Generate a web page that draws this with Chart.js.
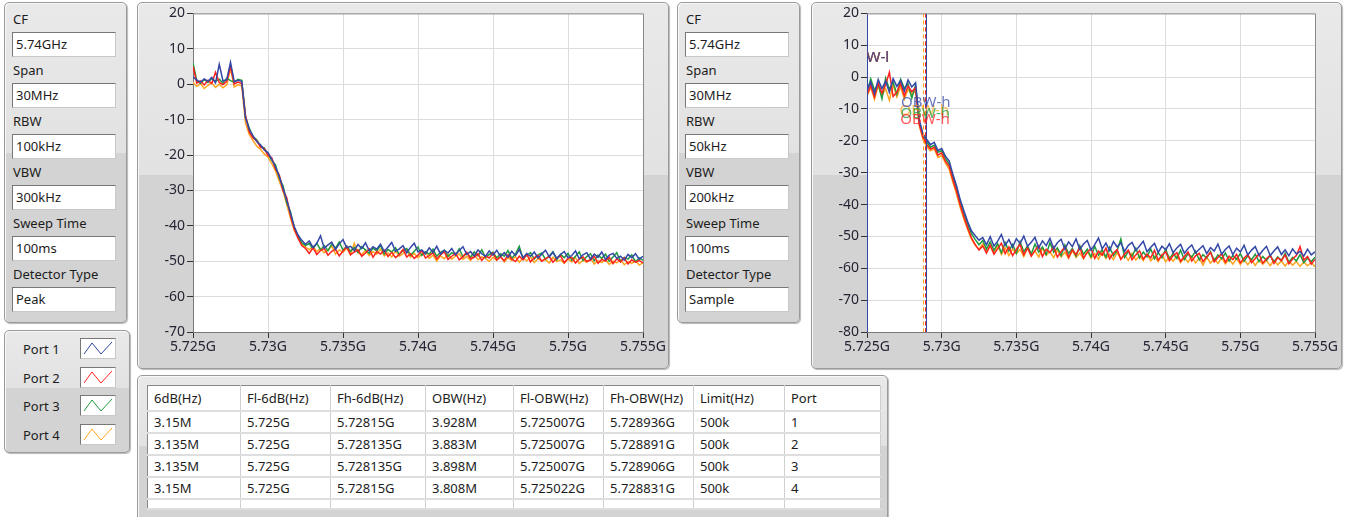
<!DOCTYPE html>
<html>
<head>
<meta charset="utf-8">
<script src="https://cdn.jsdelivr.net/npm/chart.js@4.4.1/dist/chart.umd.min.js"></script>
<style>
  body { margin: 0; width: 1348px; height: 517px; overflow: hidden; background: #fff;
         font-family: "Noto Sans", "Open Sans", sans-serif; font-size: 13px; color: #1c1c1c; }
  .panel { position: absolute; box-sizing: border-box; border: 1px solid #9a9a9a; border-radius: 5px;
           background: linear-gradient(#e9e9e9 0%, #e2e2e2 47%, #d3d3d3 47%, #d3d3d3 100%);
           box-shadow: inset 1px 1px 0 #f8f8f8, 1px 1px 1px #b8b8b8; }
  .lbl { position: absolute; left: 8px; line-height: 16px; }
  .box { position: absolute; left: 7px; width: 104px; height: 25px; box-sizing: border-box;
         background: #fff; border: 1px solid #777; border-right-color: #c8c8c8; border-bottom-color: #c8c8c8;
         padding-left: 3px; line-height: 22px; }
  .leg { position: absolute; left: 18px; line-height: 16px; }
  .sw { position: absolute; left: 75px; width: 36px; height: 21px; box-sizing: border-box;
        background: #fff; border: 1px solid #777; border-right-color: #c8c8c8; border-bottom-color: #c8c8c8; }
  canvas { position: absolute; left: 0; top: 0; }
  table { position: absolute; left: 9px; top: 9px; border-collapse: collapse; background: #fff;
          border: 1px solid #888; }
  td { height: 22px; padding: 0 0 0 6px; border-right: 1px solid #cfcfcf; border-bottom: 2px solid #dedede;
       white-space: nowrap; box-sizing: border-box; }
  tr.hd td { height: 25px; }
</style>
</head>
<body>
<script>
// Messparameter der beiden Analysen
const paramLabels = ['CF', 'Span', 'RBW', 'VBW', 'Sweep Time', 'Detector Type'];
const paramsLeft = ['5.74GHz', '30MHz', '100kHz', '300kHz', '100ms', 'Peak'];
const paramsRight = ['5.74GHz', '30MHz', '50kHz', '200kHz', '100ms', 'Sample'];

const portNames = ['Port 1', 'Port 2', 'Port 3', 'Port 4'];
const portColors = ['#3347a6', '#ff2020', '#1f9a3e', '#ffa51f'];

// Frequenzachse (MHz ab 5725 MHz)
const startMHz = 5725;
const sweepOffsetMHz = [0, 0.25, 0.5, 0.75, 1, 1.25, 1.5, 1.75, 2, 2.25, 2.5, 2.75, 3, 3.25, 3.5, 3.75,
  4, 4.25, 4.5, 4.75, 5, 5.25, 5.5, 5.75, 6, 6.25, 6.5, 6.75, 7, 7.25, 7.5, 7.75, 8, 8.25, 8.5, 8.75,
  9, 9.25, 9.5, 9.75, 10, 10.25, 10.5, 10.75, 11, 11.25, 11.5, 11.75, 12, 12.25, 12.5, 12.75, 13, 13.25,
  13.5, 13.75, 14, 14.25, 14.5, 14.75, 15, 15.25, 15.5, 15.75, 16, 16.25, 16.5, 16.75, 17, 17.25, 17.5,
  17.75, 18, 18.25, 18.5, 18.75, 19, 19.25, 19.5, 19.75, 20, 20.25, 20.5, 20.75, 21, 21.25, 21.5, 21.75,
  22, 22.25, 22.5, 22.75, 23, 23.25, 23.5, 23.75, 24, 24.25, 24.5, 24.75, 25, 25.25, 25.5, 25.75, 26,
  26.25, 26.5, 26.75, 27, 27.25, 27.5, 27.75, 28, 28.25, 28.5, 28.75, 29, 29.25, 29.5, 29.75, 30];

const xTickValuesMHz = [5725, 5730, 5735, 5740, 5745, 5750, 5755];
const xTickLabels = ['5.725G', '5.73G', '5.735G', '5.74G', '5.745G', '5.75G', '5.755G'];
const leftYTicks = [20, 10, 0, -10, -20, -30, -40, -50, -60, -70];
const rightYTicks = [20, 10, 0, -10, -20, -30, -40, -50, -60, -70, -80];

// Linkes Spektrum (Peak, dBm)
const leftPort1 = [2.0, 1.2, 0.6, 1.5, 0.8, 1.9, 0.4, 5.6, 0.9, 1.3, 6.2, 0.7, 1.1, 0.8, -9.5, -12.8,
  -14.6, -16.2, -17.1, -18.6, -19.3, -21.2, -23.4, -26.1, -29.3, -32.8, -36.5, -40.2, -42.6, -44.1, -45.2,
  -44.3, -46.1, -45.0, -42.8, -46.3, -45.4, -44.6, -46.7, -45.1, -43.9, -46.2, -45.8, -47.0, -45.3, -46.4,
  -44.8, -47.1, -45.9, -46.6, -45.2, -47.3, -46.0, -44.7, -47.2, -46.5, -45.6, -47.6, -46.1, -44.9, -47.4,
  -46.8, -47.9, -46.2, -47.5, -45.8, -48.0, -46.9, -47.7, -46.4, -48.2, -47.0, -45.9, -48.1, -47.3, -48.5,
  -46.8, -47.9, -48.6, -47.1, -48.3, -46.9, -48.7, -47.6, -48.9, -47.2, -48.4, -46.7, -49.0, -47.8, -48.6,
  -47.4, -49.1, -48.0, -46.9, -48.8, -47.5, -49.2, -48.1, -47.3, -49.0, -48.4, -47.1, -49.3, -48.2, -47.6,
  -49.4, -48.0, -48.9, -47.4, -49.5, -48.3, -47.8, -49.2, -48.6, -49.7, -48.1, -49.0, -47.9, -49.4, -48.6];
const leftPort2 = [5.0, 0.3, 0.9, -0.2, 1.1, 0.2, 3.4, 0.5, -0.1, 0.8, 5.0, 0.1, 0.6, 0.2, -8.8, -13.5,
  -15.1, -16.0, -17.8, -18.2, -20.1, -20.8, -24.0, -25.6, -30.0, -32.1, -37.2, -40.8, -43.5, -45.6, -46.4,
  -47.8, -46.2, -48.1, -47.0, -46.4, -48.3, -47.2, -46.6, -48.5, -47.1, -45.9, -48.2, -47.4, -46.8, -48.6,
  -47.7, -46.5, -48.9, -47.3, -48.0, -46.9, -48.7, -47.5, -49.0, -48.1, -46.7, -48.8, -47.9, -49.2, -48.3,
  -47.0, -49.1, -48.4, -47.6, -49.4, -48.2, -47.3, -49.5, -48.6, -47.8, -49.6, -48.7, -47.5, -49.3, -48.9,
  -47.9, -49.8, -48.5, -49.1, -47.7, -49.7, -48.8, -49.9, -48.2, -49.4, -50.1, -48.6, -49.6, -48.0, -50.2,
  -49.0, -48.4, -50.0, -49.3, -48.7, -50.3, -49.1, -48.5, -50.4, -49.2, -48.9, -50.5, -49.4, -48.8, -50.1,
  -49.7, -48.6, -50.6, -49.5, -50.0, -48.9, -50.7, -49.3, -50.2, -49.0, -50.8, -49.6, -50.3, -49.8, -50.5];
const leftPort3 = [6.0, 1.0, 0.2, 1.3, 0.5, 1.6, 0.8, 1.4, 0.3, 1.7, 1.0, 0.6, 1.4, 1.1, -9.2, -12.4,
  -14.8, -15.7, -17.6, -18.0, -19.8, -21.5, -22.8, -26.5, -28.7, -33.4, -36.0, -40.6, -42.9, -44.8, -45.6,
  -45.0, -46.5, -44.9, -46.8, -45.6, -47.0, -45.2, -46.3, -44.6, -46.9, -45.7, -47.2, -46.1, -47.5, -45.9,
  -46.8, -47.8, -46.3, -47.1, -45.5, -48.0, -46.7, -47.4, -46.2, -48.1, -47.0, -46.4, -48.3, -47.2, -46.0,
  -48.4, -47.3, -48.0, -46.6, -48.6, -47.5, -46.9, -48.7, -47.6, -48.3, -46.5, -48.8, -47.7, -48.9, -47.4,
  -48.5, -46.8, -49.0, -48.1, -47.5, -49.1, -47.9, -48.6, -47.0, -49.2, -48.0, -45.8, -49.3, -48.4, -47.6,
  -49.4, -48.2, -47.7, -49.5, -48.5, -47.3, -49.6, -48.1, -49.0, -47.8, -49.7, -48.6, -47.4, -49.8, -48.7,
  -47.9, -49.9, -48.3, -49.2, -48.0, -50.0, -48.8, -47.6, -50.1, -48.9, -49.4, -48.2, -50.2, -49.1, -49.7];
const leftPort4 = [0.5, -0.6, 0.1, -1.2, -0.3, 0.4, -0.9, 0.0, -1.0, -0.2, 4.4, -0.8, -0.1, -0.5, -11.0,
  -14.2, -15.9, -17.5, -18.4, -19.7, -20.6, -22.4, -24.5, -27.4, -30.2, -34.0, -37.9, -41.3, -43.4, -45.0,
  -46.0, -46.7, -45.8, -47.3, -46.4, -47.6, -46.9, -45.7, -48.0, -46.8, -47.5, -46.3, -48.1, -44.9, -47.6,
  -48.2, -46.9, -48.4, -47.3, -48.0, -46.6, -48.5, -47.7, -48.8, -47.1, -48.6, -47.9, -46.8, -48.9, -47.8,
  -49.0, -48.1, -47.4, -49.2, -48.3, -50.0, -48.5, -49.3, -48.0, -49.4, -48.6, -47.9, -49.5, -48.7, -49.8,
  -48.2, -49.6, -48.8, -49.2, -50.1, -48.9, -49.7, -48.4, -50.2, -49.0, -49.8, -48.7, -50.3, -49.1, -49.9,
  -48.8, -50.4, -49.3, -50.0, -49.5, -50.5, -48.9, -50.1, -49.6, -50.6, -49.4, -50.2, -49.0, -50.7, -49.7,
  -50.3, -49.2, -50.8, -49.8, -50.4, -49.5, -50.9, -50.0, -50.5, -49.6, -51.0, -50.1, -50.6, -49.9, -51.1,
  -50.4];

// Rechtes Spektrum (Sample, dBm)
const rightPort1 = [-4.0, -1.5, -5.2, -0.8, -3.6, -1.2, -4.8, -0.5, -2.9, -1.0, -4.4, -0.9, -3.1, -1.8,
  -13.5, -17.8, -19.6, -21.2, -20.5, -23.0, -22.4, -24.8, -26.3, -30.5, -34.2, -38.6, -42.1, -45.5, -48.3,
  -49.8, -51.2, -50.4, -52.6, -50.1, -53.0, -51.5, -49.4, -52.8, -51.0, -53.4, -50.7, -52.2, -49.9, -53.1,
  -51.8, -50.3, -53.6, -51.4, -52.9, -50.6, -53.8, -52.0, -50.9, -54.0, -51.7, -53.2, -50.8, -54.1, -52.4,
  -51.3, -54.3, -52.6, -50.5, -53.9, -52.1, -54.5, -51.6, -53.3, -52.0, -54.7, -52.8, -51.9, -54.4, -53.0,
  -51.5, -54.8, -53.4, -52.2, -55.0, -53.1, -54.2, -52.3, -55.1, -53.6, -52.5, -55.3, -53.8, -52.7, -55.2,
  -54.0, -52.9, -55.4, -53.5, -54.6, -52.4, -55.6, -54.1, -53.0, -55.7, -53.7, -54.9, -52.8, -55.8, -54.3,
  -53.2, -55.9, -54.4, -53.1, -56.0, -54.6, -53.3, -55.7, -54.2, -56.1, -53.9, -55.5, -54.7, -56.2, -54.0,
  -55.8, -54.8];
const rightPort2 = [-5.5, -2.6, -6.3, -1.9, -5.0, -2.3, 1.5, -6.1, -4.7, -2.0, -5.9, -2.8, -4.6, -3.3,
  -14.8, -19.0, -21.1, -22.6, -22.0, -24.5, -23.8, -26.4, -28.0, -32.2, -35.9, -40.3, -44.0, -47.4, -50.5,
  -52.6, -54.3, -53.0, -55.2, -52.7, -55.6, -53.9, -52.1, -55.4, -53.3, -56.0, -54.1, -52.5, -55.8, -53.6,
  -56.2, -54.4, -52.9, -56.3, -54.0, -55.1, -53.2, -56.5, -54.7, -53.4, -56.6, -54.2, -55.7, -53.5, -56.8,
  -55.0, -53.8, -56.9, -54.6, -55.9, -53.7, -57.0, -55.2, -54.1, -57.2, -55.5, -54.3, -57.3, -55.8, -54.5,
  -57.1, -55.6, -56.7, -54.4, -57.5, -55.9, -54.8, -57.6, -56.0, -55.1, -57.8, -56.3, -54.9, -57.7, -56.1,
  -55.3, -57.9, -56.4, -55.0, -58.0, -56.6, -55.4, -58.1, -56.2, -57.3, -55.6, -58.3, -56.8, -55.7, -58.2,
  -56.9, -55.5, -58.4, -57.0, -55.9, -58.5, -56.7, -57.6, -55.8, -58.6, -57.1, -56.0, -53.2, -57.4, -56.3,
  -58.7, -57.2];
const rightPort3 = [-4.8, -0.5, -4.0, -2.2, -6.8, -0.3, -3.8, -1.6, -5.4, -0.7, -3.5, -2.1, -6.6, -2.5,
  -14.0, -18.3, -20.2, -22.0, -21.4, -23.6, -23.1, -25.5, -27.2, -31.3, -35.0, -39.4, -43.0, -46.3, -49.2,
  -51.0, -52.6, -51.3, -54.0, -51.7, -54.4, -52.3, -55.1, -51.9, -54.6, -52.5, -55.3, -51.6, -54.8, -53.0,
  -55.5, -52.4, -54.9, -53.3, -55.7, -52.0, -55.0, -53.6, -56.0, -52.7, -55.4, -53.8, -56.2, -52.9, -55.6,
  -54.0, -56.4, -53.1, -55.9, -54.2, -56.5, -53.4, -56.1, -54.5, -50.8, -56.6, -54.7, -56.3, -53.7, -56.8,
  -54.9, -56.4, -53.9, -57.0, -55.1, -56.7, -54.0, -57.1, -55.3, -56.9, -54.3, -57.3, -55.5, -56.5, -54.6,
  -57.4, -55.7, -56.8, -54.8, -57.6, -55.8, -57.0, -55.2, -57.7, -56.0, -57.2, -55.4, -57.8, -56.1, -57.3,
  -55.6, -57.9, -56.3, -57.5, -55.9, -58.0, -56.4, -57.6, -55.3, -58.1, -56.6, -57.7, -55.7, -58.2, -56.8,
  -57.9, -56.5];
const rightPort4 = [-6.0, -3.2, -7.0, -2.7, -5.8, -3.6, -7.3, -2.4, -6.2, -3.0, -6.9, -3.8, -5.5, -4.1,
  -15.2, -19.6, -21.8, -23.1, -22.5, -25.2, -24.6, -27.0, -28.9, -33.0, -36.8, -41.1, -44.8, -48.0, -50.9,
  -52.8, -54.0, -52.4, -55.0, -53.1, -55.3, -52.8, -55.7, -53.5, -56.0, -53.9, -55.4, -54.1, -56.3, -53.6,
  -56.1, -54.6, -56.5, -53.8, -55.9, -54.8, -56.7, -54.2, -56.4, -55.0, -56.9, -54.5, -56.6, -55.2, -57.0,
  -54.7, -56.8, -55.4, -57.2, -54.9, -56.9, -55.6, -57.3, -55.1, -57.1, -55.8, -57.5, -55.3, -57.4, -56.0,
  -57.6, -55.5, -57.7, -56.2, -57.9, -55.7, -58.0, -56.4, -57.8, -56.1, -58.2, -56.6, -58.1, -56.3, -58.3,
  -56.8, -59.0, -56.5, -58.4, -57.0, -58.5, -56.7, -58.6, -57.1, -58.7, -56.9, -58.8, -57.3, -58.9, -57.2,
  -59.1, -57.4, -58.7, -57.6, -59.2, -57.5, -58.9, -57.7, -59.3, -57.8, -59.0, -57.9, -59.4, -58.0, -59.2,
  -58.1, -59.5];

// OBW-Cursor (rechtes Diagramm), Werte aus der Tabelle
const obwLowMHz = [5725.007, 5725.007, 5725.007, 5725.022];
const obwHighMHz = [5728.936, 5728.891, 5728.906, 5728.831];
const obwLowLabelDb = [6, 6, 6, 6];
const obwHighLabelDb = [-8, -13.3, -11.5, -10.5];

// Ergebnistabelle
const tableHeader = ['6dB(Hz)', 'Fl-6dB(Hz)', 'Fh-6dB(Hz)', 'OBW(Hz)', 'Fl-OBW(Hz)', 'Fh-OBW(Hz)', 'Limit(Hz)', 'Port'];
const tableRows = [
  ['3.15M', '5.725G', '5.72815G', '3.928M', '5.725007G', '5.728936G', '500k', '1'],
  ['3.135M', '5.725G', '5.728135G', '3.883M', '5.725007G', '5.728891G', '500k', '2'],
  ['3.135M', '5.725G', '5.728135G', '3.898M', '5.725007G', '5.728906G', '500k', '3'],
  ['3.15M', '5.725G', '5.72815G', '3.808M', '5.725022G', '5.728831G', '500k', '4']
];
const colWidths = [93, 90, 95, 88, 90, 90, 91, 96];

function makePanel(left, top, width, height) {
  const p = document.createElement('div');
  p.className = 'panel';
  Object.assign(p.style, { left: left + 'px', top: top + 'px', width: width + 'px', height: height + 'px' });
  document.body.appendChild(p);
  return p;
}

function paramPanel(left, values) {
  const p = makePanel(left, 2, 123, 321);
  paramLabels.forEach((name, i) => {
    const l = document.createElement('div');
    l.className = 'lbl';
    l.style.top = (8 + i * 51) + 'px';
    l.textContent = name;
    p.appendChild(l);
    const b = document.createElement('div');
    b.className = 'box';
    b.style.top = (29 + i * 51) + 'px';
    b.textContent = values[i];
    p.appendChild(b);
  });
}

paramPanel(4, paramsLeft);
paramPanel(677, paramsRight);

// Legende
const legend = makePanel(4, 330, 126, 123);
portNames.forEach((name, i) => {
  const l = document.createElement('div');
  l.className = 'leg';
  l.style.top = (10 + i * 28.5) + 'px';
  l.textContent = name;
  legend.appendChild(l);
  const s = document.createElement('div');
  s.className = 'sw';
  s.style.top = (7 + i * 28.5) + 'px';
  s.innerHTML = '<svg width="34" height="19"><polyline points="3,15 11,4 20,15 31,3" fill="none" stroke="' +
    portColors[i] + '" stroke-width="1"/></svg>';
  legend.appendChild(s);
});

// Tabelle
const tPanel = makePanel(137, 375, 751, 150);
const table = document.createElement('table');
const hd = table.insertRow();
hd.className = 'hd';
tableHeader.forEach((h, i) => {
  const c = hd.insertCell();
  c.textContent = h;
  c.style.width = colWidths[i] + 'px';
});
tableRows.forEach(r => {
  const tr = table.insertRow();
  r.forEach(v => { tr.insertCell().textContent = v; });
});
const blank = table.insertRow();
tableHeader.forEach(() => { blank.insertCell().style.height = '10px'; });
tPanel.appendChild(table);

// Plotfläche weiß + Rahmen
const plotFrame = {
  id: 'plotFrame',
  beforeDraw(chart) {
    const a = chart.chartArea, ctx = chart.ctx;
    ctx.save();
    ctx.fillStyle = '#ffffff';
    ctx.fillRect(a.left, a.top, a.right - a.left, a.bottom - a.top);
    ctx.restore();
  },
  afterDraw(chart) {
    const a = chart.chartArea, ctx = chart.ctx;
    ctx.save();
    ctx.strokeStyle = '#8a8a8a';
    ctx.lineWidth = 1;
    ctx.beginPath();
    ctx.moveTo(a.left, a.top + 0.5);
    ctx.lineTo(a.right + 0.5, a.top + 0.5);
    ctx.lineTo(a.right + 0.5, a.bottom);
    ctx.stroke();
    ctx.restore();
  }
};

// OBW Cursor-Linien und Beschriftungen
const obwCursors = {
  id: 'obwCursors',
  afterDatasetsDraw(chart) {
    const a = chart.chartArea, ctx = chart.ctx;
    const xs = chart.scales.x, ys = chart.scales.y;
    ctx.save();
    ctx.beginPath();
    ctx.rect(a.left, a.top, a.right - a.left, a.bottom - a.top);
    ctx.clip();
    for (let i = 3; i >= 0; i--) {
      ctx.strokeStyle = portColors[i];
      ctx.lineWidth = 1;
      ctx.setLineDash(i === 0 ? [] : [4, 3]);
      [obwLowMHz[i], obwHighMHz[i]].forEach(f => {
        const x = Math.round(xs.getPixelForValue(f)) + 0.5 + (i === 3 ? -1 : 0);
        ctx.beginPath();
        ctx.moveTo(x, a.top);
        ctx.lineTo(x, a.bottom);
        ctx.stroke();
      });
    }
    ctx.setLineDash([]);
    ctx.font = '15px "Noto Sans", sans-serif';
    ctx.textAlign = 'center';
    ctx.textBaseline = 'middle';
    ctx.globalAlpha = 0.75;
    for (let i = 3; i >= 0; i--) {
      ctx.fillStyle = portColors[i];
      ctx.fillText('OBW-l', xs.getPixelForValue(obwLowMHz[i]), ys.getPixelForValue(obwLowLabelDb[i]));
      ctx.fillText('OBW-h', xs.getPixelForValue(obwHighMHz[i]), ys.getPixelForValue(obwHighLabelDb[i]));
    }
    ctx.restore();
  }
};

// plotRight: Abstand rechter Plotrand zum Canvas-Rand
function makeChart(left, width, series, yTicks, plotRight, extra) {
  const p = makePanel(left, 2, width, 367);
  const cv = document.createElement('canvas');
  cv.width = width - 2;
  cv.height = 365;
  p.appendChild(cv);

  const datasets = series.map((s, i) => ({
    label: portNames[i],
    data: s.map((v, k) => ({ x: startMHz + sweepOffsetMHz[k], y: v })),
    borderColor: portColors[i],
    borderWidth: 1.5,
    pointRadius: 0,
    tension: 0
  }));

  return new Chart(cv.getContext('2d'), {
    type: 'line',
    data: { datasets },
    options: {
      responsive: false,
      animation: false,
      events: [],
      layout: { padding: { left: 0, top: 9, right: plotRight, bottom: 0 } },
      plugins: { legend: { display: false }, tooltip: { enabled: false } },
      scales: {
        x: {
          type: 'linear',
          min: xTickValuesMHz[0],
          max: xTickValuesMHz[xTickValuesMHz.length - 1],
          afterBuildTicks: sc => { sc.ticks = xTickValuesMHz.map(v => ({ value: v })); },
          afterFit: sc => { sc.height = 36; },
          border: { color: '#7a7a7a' },
          grid: { color: '#dcdcdc', tickColor: '#333', tickLength: 6 },
          ticks: {
            color: '#252535', padding: 1, maxRotation: 0,
            font: { family: '"Noto Sans", sans-serif', size: 14 },
            callback: (v, i) => xTickLabels[i]
          }
        },
        y: {
          min: yTicks[yTicks.length - 1],
          max: yTicks[0],
          afterBuildTicks: sc => { sc.ticks = yTicks.map(v => ({ value: v })); },
          afterFit: sc => { sc.width = 55; },
          border: { color: '#7a7a7a' },
          grid: { color: '#dcdcdc', tickColor: '#333', tickLength: 6 },
          ticks: {
            color: '#252535', padding: 2,
            font: { family: '"Noto Sans", sans-serif', size: 14 },
            callback: v => String(v)
          }
        }
      }
    },
    plugins: [plotFrame].concat(extra || [])
  });
}

makeChart(137, 532, [leftPort1, leftPort2, leftPort3, leftPort4], leftYTicks, 25);
makeChart(811, 531, [rightPort1, rightPort2, rightPort3, rightPort4], rightYTicks, 26, [obwCursors]);
</script>
</body>
</html>
